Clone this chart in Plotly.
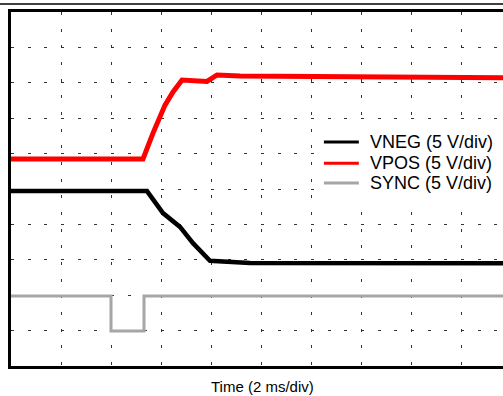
import plotly.graph_objects as go

# scope traces in divisions (x: 2 ms/div, y: 5 V/div)
vpos_x = [0.0, 2.64, 2.84, 3.08, 3.24, 3.42, 3.92, 4.12, 4.58, 6.5, 9.84]
vpos_y = [5.85, 5.85, 6.58, 7.37, 7.74, 8.08, 8.04, 8.22, 8.19, 8.16, 8.14]

vneg_x = [0.0, 2.72, 3.04, 3.38, 3.64, 3.98, 4.78, 9.84]
vneg_y = [4.94, 4.94, 4.32, 3.93, 3.47, 2.97, 2.91, 2.90]

sync_x = [0.0, 2.0, 2.0, 2.66, 2.66, 9.84]
sync_y = [1.98, 1.98, 0.99, 0.99, 1.98, 1.98]

labels = ["VNEG (5 V/div)", "VPOS (5 V/div)", "SYNC (5 V/div)"]
colors = ["black", "#ff0000", "#a6a6a6"]
x_title = "Time (2 ms/div)"

FONT = "Liberation Sans, Arial, sans-serif"

fig = go.Figure()
for xs, ys, name, col, w in [(vneg_x, vneg_y, labels[0], colors[0], 4.5),
                             (vpos_x, vpos_y, labels[1], colors[1], 5),
                             (sync_x, sync_y, labels[2], colors[2], 3)]:
    fig.add_trace(go.Scatter(x=xs, y=ys, mode="lines", name=name,
                             line=dict(color=col, width=w)))

grid = dict(showgrid=True, gridcolor="#333333", gridwidth=1, griddash="3px,13.67px",
            zeroline=False, showticklabels=False, ticks="",
            showline=True, linecolor="black", linewidth=3)
fig.update_xaxes(range=[0, 9.84], tickvals=list(range(10)), mirror=True, **grid)
fig.update_yaxes(range=[0, 10], tickvals=list(range(11)), **grid)

# thin rule above the scope frame
fig.add_shape(type="line", xref="paper", yref="paper", x0=-0.03, x1=1.03,
              y0=1.0226, y1=1.0226, line=dict(color="black", width=1.5))

# legend drawn by hand so rows sit as tight as in the original
fig.add_shape(type="rect", xref="paper", yref="paper", x0=0.624, x1=1.0,
              y0=0.455, y1=0.689, fillcolor="white", line_width=0, layer="above")
rows = [0.633, 0.573, 0.517]
for name, col, ry in zip(labels, colors, rows):
    fig.add_shape(type="line", xref="paper", yref="paper", x0=0.636, x1=0.707,
                  y0=ry, y1=ry, line=dict(color=col, width=3), layer="above")
    fig.add_annotation(text=name, xref="paper", yref="paper", x=0.726, y=ry,
                       showarrow=False, xanchor="left", yanchor="middle",
                       font=dict(size=18, color="black", family=FONT))

fig.add_annotation(text=x_title, xref="paper", yref="paper", x=0.512, y=-0.059,
                   showarrow=False, xanchor="center", yanchor="middle",
                   font=dict(size=15, color="black", family=FONT))

fig.update_layout(
    width=503, height=396,
    margin=dict(l=11, r=0, t=12, b=30),
    plot_bgcolor="white", paper_bgcolor="white",
    font=dict(family=FONT, color="black"),
    showlegend=False,
)
fig.write_html("out.html", config={"displayModeBar": False},
               post_script="document.body.style.margin='0';")
